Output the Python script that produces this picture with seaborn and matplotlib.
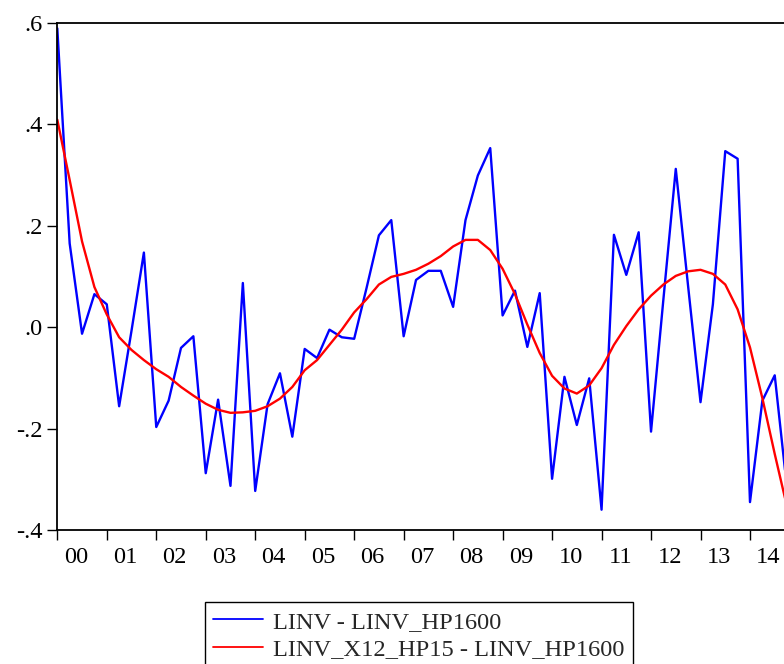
import numpy as np
import pandas as pd
import matplotlib
matplotlib.use("Agg")
import matplotlib.pyplot as plt
import seaborn as sns

# Quarterly cyclical components, 2000Q1 - 2014Q4
cycle_hp1600 = [
    0.589, 0.165, -0.013, 0.065, 0.045, -0.156, -0.007, 0.147,
    -0.197, -0.145, -0.041, -0.018, -0.288, -0.143, -0.313, 0.087,
    -0.323, -0.152, -0.091, -0.216, -0.043, -0.061, -0.005, -0.020,
    -0.023, 0.077, 0.181, 0.211, -0.018, 0.093, 0.111, 0.111,
    0.040, 0.211, 0.299, 0.353, 0.023, 0.072, -0.039, 0.067,
    -0.299, -0.098, -0.193, -0.101, -0.360, 0.182, 0.103, 0.187,
    -0.206, 0.055, 0.312, 0.080, -0.148, 0.045, 0.347, 0.332,
    -0.345, -0.145, -0.095, -0.320,
]
cycle_x12_hp15 = [
    0.409, 0.290, 0.169, 0.079, 0.025, -0.020, -0.045, -0.065,
    -0.083, -0.098, -0.118, -0.135, -0.151, -0.163, -0.169, -0.168,
    -0.165, -0.156, -0.141, -0.118, -0.085, -0.065, -0.035, -0.005,
    0.029, 0.055, 0.084, 0.099, 0.105, 0.113, 0.125, 0.140,
    0.159, 0.172, 0.172, 0.152, 0.115, 0.065, 0.005, -0.051,
    -0.096, -0.121, -0.131, -0.115, -0.081, -0.035, 0.002, 0.035,
    0.062, 0.084, 0.101, 0.110, 0.113, 0.105, 0.084, 0.035,
    -0.040, -0.140, -0.250, -0.355,
]
year_labels = ["00", "01", "02", "03", "04", "05", "06", "07",
               "08", "09", "10", "11", "12", "13", "14"]
series_names = ["LINV - LINV_HP1600", "LINV_X12_HP15 - LINV_HP1600"]
y_ticks = [-0.4, -0.2, 0.0, 0.2, 0.4, 0.6]
y_tick_labels = ["-.4", "-.2", ".0", ".2", ".4", ".6"]

quarter = np.arange(len(cycle_hp1600))
df = pd.DataFrame({
    "quarter": np.concatenate([quarter, quarter]),
    "value": cycle_hp1600 + cycle_x12_hp15,
    "series": [series_names[0]] * len(quarter) + [series_names[1]] * len(quarter),
})

sns.set_theme(style="ticks")
plt.rcParams["font.family"] = ["Liberation Serif", "DejaVu Serif"]

FS = 17.6
W, H = 784, 664
fig = plt.figure(figsize=(W / 100, H / 100), dpi=100)
x0, x1 = 57.3, 787.1
y_top, y_bot = 22.8, 530.0
ax = fig.add_axes([x0 / W, 1 - y_bot / H, (x1 - x0) / W, (y_bot - y_top) / H])

sns.lineplot(data=df, x="quarter", y="value", hue="series",
             palette={series_names[0]: "#0000FF", series_names[1]: "#FF0000"},
             linewidth=1.7, ax=ax, legend=False)

ax.set_xlim(0, len(quarter) - 1)
ax.set_ylim(-0.4, 0.6)
ax.set_xlabel("")
ax.set_ylabel("")

# year boundaries as major ticks, labels centred on each year
n_years = len(year_labels)
ax.set_xticks(np.arange(0, 4 * n_years, 4))
ax.set_xticklabels([])
ax.set_xticks(np.arange(n_years) * 4 + 1.5, minor=True)
ax.set_xticklabels(year_labels, minor=True)
ax.tick_params(axis="x", which="major", direction="out", length=7.2, width=1.0, color="black")
ax.tick_params(axis="x", which="minor", length=0, pad=12, labelsize=FS, labelcolor="black")

ax.set_yticks(y_ticks)
ax.set_yticklabels(y_tick_labels)
ax.tick_params(axis="y", direction="out", length=7.2, width=1.0, pad=3.5,
               labelsize=FS, labelcolor="black", color="black")

for side in ["left", "bottom", "top", "right"]:
    ax.spines[side].set_visible(True)
    ax.spines[side].set_color("black")
    ax.spines[side].set_linewidth(1.3)

handles = [plt.Line2D([], [], color="#0000FF", linewidth=1.3),
           plt.Line2D([], [], color="#FF0000", linewidth=1.3)]
leg = fig.legend(handles, series_names, loc="upper left",
                 bbox_to_anchor=(204.7 / W, 1 - 602.3 / H),
                 bbox_transform=fig.transFigure, borderaxespad=0,
                 fontsize=FS, frameon=True, fancybox=False, shadow=False,
                 handlelength=2.05, handletextpad=0.38, borderpad=0.35,
                 labelspacing=0.22)
leg.get_frame().set_edgecolor("black")
leg.get_frame().set_linewidth(1.0)
leg.get_frame().set_alpha(1.0)

fig.savefig("out.png", dpi=100, facecolor="white")
